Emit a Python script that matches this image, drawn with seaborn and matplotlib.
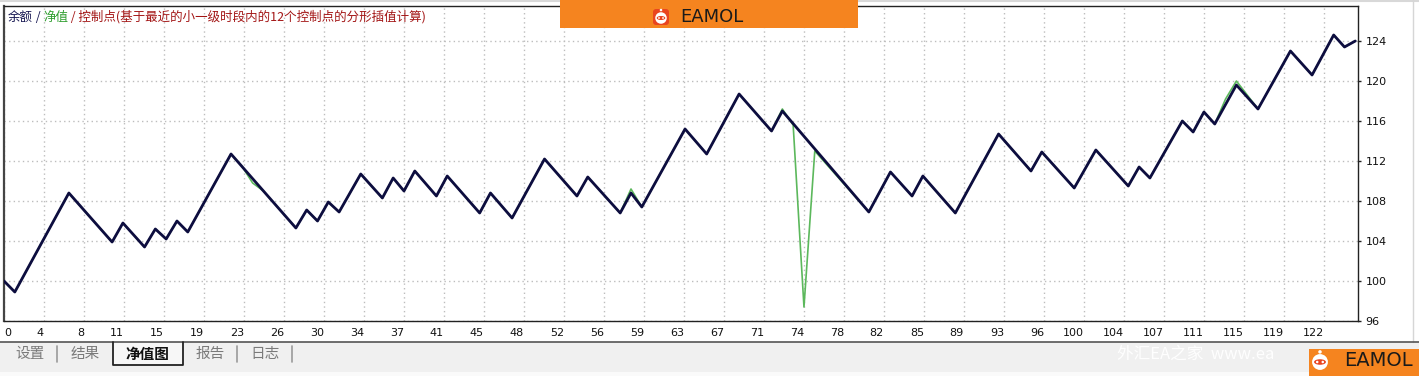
import matplotlib
matplotlib.use("Agg")
import matplotlib.pyplot as plt
import seaborn as sns
from matplotlib.transforms import IdentityTransform
from matplotlib.patches import Rectangle, Circle, FancyBboxPatch, Ellipse
from matplotlib.lines import Line2D

# ---------------- data ----------------
balance_trade = [0, 1, 6, 10, 11, 13, 14, 15, 16, 17, 21, 27, 28, 29, 30, 31, 33, 35, 36, 37,
                 38, 40, 41, 44, 45, 47, 50, 53, 54, 57, 58, 59, 63, 65, 68, 71, 72, 80, 82, 84,
                 85, 88, 92, 95, 96, 99, 101, 104, 105, 106, 109, 110, 111, 112, 114, 116, 119,
                 121, 123, 124, 125]
balance_value = [100.0, 98.9, 108.8, 103.9, 105.8, 103.4, 105.2, 104.2, 106.0, 104.9, 112.7,
                 105.3, 107.1, 106.0, 107.9, 106.9, 110.7, 108.3, 110.3, 109.0, 111.0, 108.5,
                 110.5, 106.8, 108.8, 106.3, 112.2, 108.5, 110.4, 106.8, 108.8, 107.4, 115.2,
                 112.7, 118.7, 115.0, 117.0, 106.9, 110.9, 108.5, 110.5, 106.8, 114.7, 111.0,
                 112.9, 109.3, 113.1, 109.5, 111.4, 110.3, 116.0, 114.9, 116.9, 115.7, 119.6,
                 117.2, 123.0, 120.6, 124.6, 123.4, 124.0]

equity_trade = [0, 1, 6, 10, 11, 13, 14, 15, 16, 17, 21, 22, 23, 24, 27, 28, 29, 30, 31, 33,
                35, 36, 37, 38, 40, 41, 44, 45, 47, 50, 53, 54, 57, 58, 59, 63, 65, 68, 71, 72,
                73, 74, 75, 80, 82, 84, 85, 88, 92, 95, 96, 99, 101, 104, 105, 106, 109, 110,
                111, 112, 113, 114, 116, 119, 121, 123, 124, 125]
equity_value = [100.0, 98.9, 108.8, 103.9, 105.8, 103.4, 105.2, 104.2, 106.0, 104.9, 112.7,
                111.5, 109.8, 109.0, 105.3, 107.1, 106.0, 107.9, 106.9, 110.7, 108.3, 110.3,
                109.0, 111.0, 108.5, 110.5, 106.8, 108.8, 106.3, 112.2, 108.5, 110.4, 106.8,
                109.2, 107.4, 115.2, 112.7, 118.7, 115.0, 117.2, 115.6, 97.4, 113.0, 106.9,
                110.9, 108.5, 110.5, 106.8, 114.7, 111.0, 112.9, 109.3, 113.1, 109.5, 111.4,
                110.3, 116.0, 114.9, 116.9, 115.7, 118.2, 120.0, 117.2, 123.0, 120.6, 124.6,
                123.4, 124.0]

x_tick_labels = ["0", "4", "8", "11", "15", "19", "23", "26", "30", "34", "37", "41", "45",
                 "48", "52", "56", "59", "63", "67", "71", "74", "78", "82", "85", "89", "93",
                 "96", "100", "104", "107", "111", "115", "119", "122"]
y_ticks = [96, 100, 104, 108, 112, 116, 120, 124]

legend_parts = [("余额", "#141450"), (" / ", "#141450"), ("净值", "#2e9e2e"),
                (" / 控制点(基于最近的小一级时段内的12个控制点的分形插值计算)", "#a31515")]
tab_labels = ["设置", "结果", "净值图", "报告", "日志"]
brand = "EAMOL"
watermark = "外汇EA之家  www.ea"

# ---------------- style ----------------
W, H = 1419, 376
sns.set_style("white")
plt.rcParams["font.family"] = ["Noto Sans CJK SC", "DejaVu Sans"]

NAVY = "#0d0d3f"
GREEN = "#5cb85c"
ORANGE = "#F5841F"

fig = plt.figure(figsize=(W / 100, H / 100), dpi=100)
fig.patch.set_facecolor("white")
PX = IdentityTransform()


def py(y):
    return H - y


ax = fig.add_axes([4 / W, (H - 321) / H, 1354 / W, 315 / H])
ax.set_facecolor("white")

sns.lineplot(x=equity_trade, y=equity_value, ax=ax, color=GREEN, linewidth=1.2,
             sort=False, estimator=None, zorder=2)
sns.lineplot(x=balance_trade, y=balance_value, ax=ax, color=NAVY, linewidth=2.0,
             sort=False, estimator=None, zorder=3)

ax.set_xlim(0, 125.25)
ax.set_ylim(96, 127.5)
ax.set_xlabel("")
ax.set_ylabel("")

step = 3.70
ax.set_xticks([k * step for k in range(len(x_tick_labels))])
ax.set_xticklabels(x_tick_labels, fontfamily="DejaVu Sans", fontsize=8, color="#111111")
for i, lab in enumerate(ax.get_xticklabels()):
    lab.set_ha("left" if i == 0 else "right")

ax.yaxis.tick_right()
ax.set_yticks(y_ticks)
ax.set_yticklabels([str(v) for v in y_ticks], fontfamily="DejaVu Sans", fontsize=8,
                   color="#111111")
ax.tick_params(axis="x", length=2.5, width=1, pad=2.5, direction="out", color="#222222")
ax.tick_params(axis="y", length=2.5, width=1, pad=3, direction="out", color="#222222")

ax.grid(True, color="#bdbdbd", linestyle=(0, (1, 2.3)), linewidth=1.0)
ax.set_axisbelow(True)
for s in ["top", "right", "bottom", "left"]:
    ax.spines[s].set_visible(True)
    ax.spines[s].set_color("#222222")
    ax.spines[s].set_linewidth(1.0)
ax.spines["left"].set_linewidth(1.6)
ax.spines["left"].set_color("#444444")

# ---------------- legend text (multicoloured) ----------------
prev = fig.text(8, py(24), legend_parts[0][0], color=legend_parts[0][1], fontsize=9,
                transform=PX, ha="left", va="bottom", zorder=10)
for txt, col in legend_parts[1:]:
    prev = ax.annotate(txt, xy=(1, 0), xycoords=prev, ha="left", va="bottom",
                       color=col, fontsize=9, zorder=10)

# ---------------- window chrome ----------------
fig.add_artist(Line2D([0, W], [py(0.5), py(0.5)], transform=PX, color="#d8d8d8", lw=1.5))
fig.add_artist(Line2D([1413, 1413], [py(0), py(342)], transform=PX, color="#d6d6d6", lw=1))

# bottom tab bar
fig.add_artist(Rectangle((0, py(372)), W, 30, transform=PX, facecolor="#f0f0f0",
                         edgecolor="none", zorder=1))
fig.add_artist(Rectangle((0, py(376)), W, 4, transform=PX, facecolor="#fafafa",
                         edgecolor="none", zorder=1))
fig.add_artist(Line2D([0, W], [py(342), py(342)], transform=PX, color="#555555", lw=1.2,
                      zorder=2))
fig.add_artist(Line2D([113, 113, 183, 183], [py(342), py(365), py(365), py(342)],
                      transform=PX, color="#222222", lw=1.3, zorder=3))
fig.add_artist(Rectangle((114, py(364)), 68, 21, transform=PX, facecolor="#f7f7f7",
                         edgecolor="none", zorder=2))

tab_x = [30, 85, 147, 210, 265]
for lab, x in zip(tab_labels, tab_x):
    sel = lab == "净值图"
    fig.text(x, py(354), lab, transform=PX, ha="center", va="center", fontsize=10.5,
             color="#111111" if sel else "#7a7a7a", fontweight="bold" if sel else "normal",
             zorder=4)
for x in [57, 237, 292]:
    fig.add_artist(Line2D([x, x], [py(346), py(362)], transform=PX, color="#9a9a9a",
                          lw=1.2, zorder=4))

# watermark
fig.text(1117, py(354), watermark, transform=PX, ha="left", va="center", fontsize=12,
         color="white", alpha=0.95, zorder=4)


# ---------------- EAMOL logos ----------------
def robot(cx, cy, size, bg):
    if bg:
        fig.add_artist(FancyBboxPatch((cx - size / 2, py(cy) - size / 2), size, size,
                                      boxstyle="round,pad=0,rounding_size=3", transform=PX,
                                      facecolor="#E9451F", edgecolor="none", zorder=6))
    r = size * 0.36
    fig.add_artist(Circle((cx, py(cy) - 1), r, transform=PX, facecolor="white",
                          edgecolor="none", zorder=7))
    fig.add_artist(Circle((cx, py(cy) + r + 1.2), size * 0.08, transform=PX,
                          facecolor="white", edgecolor="none", zorder=7))
    fig.add_artist(Ellipse((cx, py(cy) - 1), r * 1.5, r * 0.7, transform=PX,
                           facecolor="#E9451F", edgecolor="none", zorder=8))
    for dx in (-r * 0.35, r * 0.35):
        fig.add_artist(Circle((cx + dx, py(cy) - 1), r * 0.16, transform=PX,
                              facecolor="white", edgecolor="none", zorder=9))


# top banner
fig.add_artist(Rectangle((560, py(28)), 298, 28, transform=PX, facecolor=ORANGE,
                         edgecolor="none", zorder=5))
robot(661, 17, 16, True)
fig.text(712, py(17), brand, transform=PX, ha="center", va="center", fontsize=13,
         fontfamily="DejaVu Sans", color="#1a1a1a", zorder=8)

# bottom-right badge
fig.add_artist(Rectangle((1309, py(376)), 110, 27, transform=PX, facecolor=ORANGE,
                         edgecolor="none", zorder=5))
robot(1320, 361, 22, False)
fig.text(1378, py(361), brand, transform=PX, ha="center", va="center", fontsize=14,
         fontfamily="DejaVu Sans", color="#1a1a1a", zorder=8)

fig.savefig("out.png", dpi=100, facecolor=fig.get_facecolor())
